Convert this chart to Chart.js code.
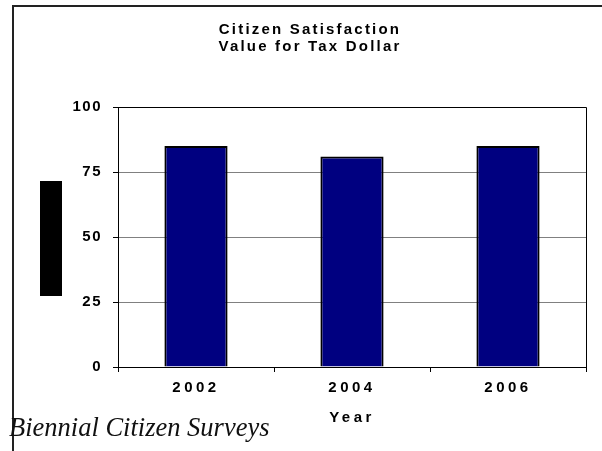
<!DOCTYPE html>
<html>
<head>
<meta charset="utf-8">
<script src="https://cdn.jsdelivr.net/npm/chart.js@4/dist/chart.umd.min.js"></script>
<style>
    html, body { margin: 0; padding: 0; background: #fff; }
    canvas { display: block; }
</style>
</head>
<body>
<canvas id="satisfactionChart" width="602" height="451"></canvas>
<script>
const years = ['2002', '2004', '2006'];
const satisfaction = [85, 81, 85];
const yTicks = [0, 25, 50, 75, 100];
const titleLines = ['Citizen Satisfaction', 'Value for Tax Dollar'];
const sourceNote = 'Biennial Citizen Surveys';

const labelFont = { family: '"Liberation Sans", Arial, sans-serif', size: 15, weight: 'bold' };

// the old chart was printed with wide letter spacing, canvas can do that per draw call
function withSpacing(scale, name, spacing) {
    if (scale['_orig_' + name]) return;
    const orig = scale[name];
    scale['_orig_' + name] = orig;
    scale[name] = function (...args) {
        const prev = this.ctx.letterSpacing;
        this.ctx.letterSpacing = spacing;
        orig.apply(this, args);
        this.ctx.letterSpacing = prev;
    };
}

const decorations = {
    id: 'decorations',
    afterLayout(chart) {
        withSpacing(chart.scales.x, 'drawLabels', '3.5px');
        withSpacing(chart.scales.x, 'drawTitle', '3.5px');
        withSpacing(chart.scales.y, 'drawLabels', '1.5px');
    },
    beforeDraw(chart) {
        chart.ctx.letterSpacing = '2.2px';
    },
    afterDraw(chart) {
        const { ctx, chartArea } = chart;
        ctx.save();
        ctx.letterSpacing = '0px';

        // plot frame: top and right edges
        ctx.strokeStyle = '#000';
        ctx.lineWidth = 1;
        ctx.beginPath();
        ctx.moveTo(chartArea.left, Math.round(chartArea.top) + 0.5);
        ctx.lineTo(Math.round(chartArea.right) + 0.5, Math.round(chartArea.top) + 0.5);
        ctx.lineTo(Math.round(chartArea.right) + 0.5, chartArea.bottom + 5);
        ctx.stroke();

        // outer frame of the slide
        ctx.strokeStyle = '#222';
        ctx.lineWidth = 2;
        ctx.beginPath();
        ctx.moveTo(13, 451);
        ctx.lineTo(13, 6);
        ctx.lineTo(602, 6);
        ctx.stroke();

        // the axis title came through as a solid block
        ctx.fillStyle = '#000';
        ctx.fillRect(40, 181, 22, 115);

        ctx.fillStyle = '#111';
        ctx.font = 'italic 26.5px "Liberation Serif", "Times New Roman", serif';
        ctx.textBaseline = 'alphabetic';
        ctx.fillText(sourceNote, 9, 436);
        ctx.restore();
    }
};

const ctx = document.getElementById('satisfactionChart').getContext('2d');
new Chart(ctx, {
    type: 'bar',
    data: {
        labels: years,
        datasets: [{
            label: 'Value for Tax Dollar',
            data: satisfaction,
            backgroundColor: '#000080',
            borderColor: '#000',
            borderWidth: 2,
            barPercentage: 0.405,
            categoryPercentage: 1
        }]
    },
    options: {
        responsive: false,
        animation: false,
        devicePixelRatio: 1,
        layout: {
            padding: { left: 34, right: 16, top: 0, bottom: 0 }
        },
        plugins: {
            legend: { display: false },
            tooltip: { enabled: false },
            title: {
                display: true,
                text: titleLines,
                color: '#000',
                font: { ...labelFont, lineHeight: 1.13 },
                padding: { top: 21.5, bottom: 51.6 }
            }
        },
        scales: {
            x: {
                afterFit: (scale) => { scale.height = 84; },
                grid: {
                    drawOnChartArea: false,
                    drawTicks: true,
                    tickLength: 5,
                    color: '#000',
                    tickColor: '#000'
                },
                border: { display: true, color: '#000', width: 1 },
                ticks: {
                    color: '#000',
                    padding: 7,
                    font: labelFont
                },
                title: {
                    display: true,
                    text: 'Year',
                    color: '#000',
                    padding: { top: 0, bottom: 24 },
                    font: labelFont
                }
            },
            y: {
                min: 0,
                max: 100,
                afterFit: (scale) => { scale.width = 84; },
                afterBuildTicks: (scale) => { scale.ticks = yTicks.map(v => ({ value: v })); },
                grid: {
                    color: (c) => c.tick && c.tick.value === 100 ? '#000' : '#808080',
                    tickColor: '#000',
                    tickLength: 5,
                    lineWidth: 1
                },
                border: { display: true, color: '#000', width: 1 },
                ticks: {
                    color: '#000',
                    padding: 11,
                    font: labelFont
                }
            }
        }
    },
    plugins: [decorations]
});
</script>
</body>
</html>
